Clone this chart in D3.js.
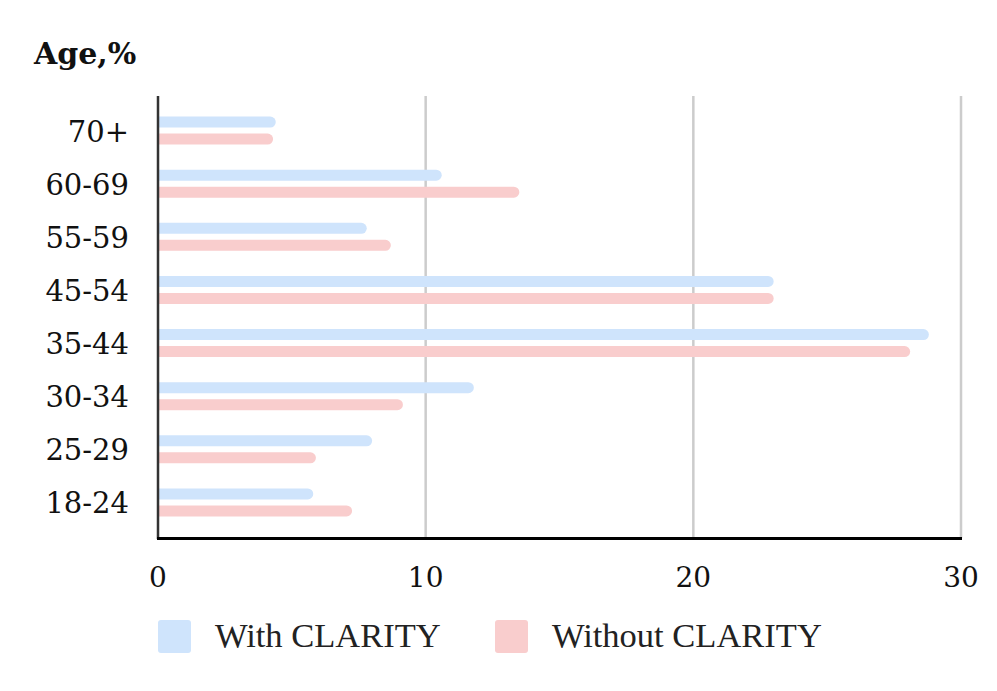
<!DOCTYPE html>
<html><head><meta charset="utf-8">
<script src="https://cdn.jsdelivr.net/npm/d3@7"></script>
<style>body{margin:0;background:#fff}</style>
</head><body>
<svg id="c" width="997" height="691"></svg>
<script>
const categories = ["70+","60-69","55-59","45-54","35-44","30-34","25-29","18-24"];
const withClarity = [4.4,10.6,7.8,23.0,28.8,11.8,8.0,5.8];
const withoutClarity = [4.3,13.5,8.7,23.0,28.1,9.15,5.9,7.25];
const seriesNames = ["With CLARITY","Without CLARITY"];
const xTicks = [0,10,20,30];
const colors = ["#cfe4fc","#f9cdcd"];

const svg = d3.select("#c");
const x = d3.scaleLinear().domain([0,30]).range([158,961]);
const y = d3.scaleBand().domain(categories).range([104,529]);
const serif = "'DejaVu Serif', serif";
const legendFont = "'Liberation Serif', serif";

// gridlines
svg.append("g").selectAll("line").data(xTicks.filter(d=>d>0)).join("line")
  .attr("x1",d=>x(d)).attr("x2",d=>x(d)).attr("y1",96).attr("y2",538)
  .attr("stroke","#cccccc").attr("stroke-width",2.5);

// bars
const series = [withClarity, withoutClarity];
const barH = 11, offs = [-8.5, 8.5];
series.forEach((vals,si)=>{
  svg.append("g").selectAll("path").data(categories).join("path")
    .attr("fill",colors[si])
    .attr("d",(c,i)=>{
      const cy = y(c)+y.bandwidth()/2+offs[si];
      const x0 = x(0), x1 = x(vals[i]), r = barH/2;
      return `M${x0},${cy-r}H${x1-r}A${r},${r} 0 0 1 ${x1-r},${cy+r}H${x0}Z`;
    });
});

// axes lines
svg.append("line").attr("x1",158).attr("x2",158).attr("y1",96).attr("y2",539)
  .attr("stroke","#333").attr("stroke-width",2.5);
svg.append("line").attr("x1",157).attr("x2",962).attr("y1",538.5).attr("y2",538.5)
  .attr("stroke","#000").attr("stroke-width",3);

// x tick labels
svg.append("g").selectAll("text").data(xTicks).join("text")
  .attr("x",d=>x(d)).attr("y",587).attr("text-anchor","middle")
  .attr("font-family",serif).attr("font-size",28).attr("fill","#111")
  .text(d=>d);

// y labels
svg.append("g").selectAll("text").data(categories).join("text")
  .attr("x",129).attr("y",c=>y(c)+y.bandwidth()/2+11).attr("text-anchor","end")
  .attr("font-family",serif).attr("font-size",29).attr("fill","#111")
  .text(d=>d);

// title
svg.append("text").attr("x",34).attr("y",64).attr("font-family",serif)
  .attr("font-weight","bold").attr("font-size",30).attr("fill","#111").text("Age,%");

// legend
const lg = svg.append("g").selectAll("g").data(seriesNames).join("g")
  .attr("transform",(d,i)=>`translate(${[158,495][i]},620)`);
lg.append("rect").attr("width",33).attr("height",33).attr("rx",3)
  .attr("fill",(d,i)=>colors[i]);
lg.append("text").attr("x",57).attr("y",27).attr("font-family",legendFont)
  .attr("font-size",34.5).attr("fill","#222").text(d=>d);
</script>
</body></html>
